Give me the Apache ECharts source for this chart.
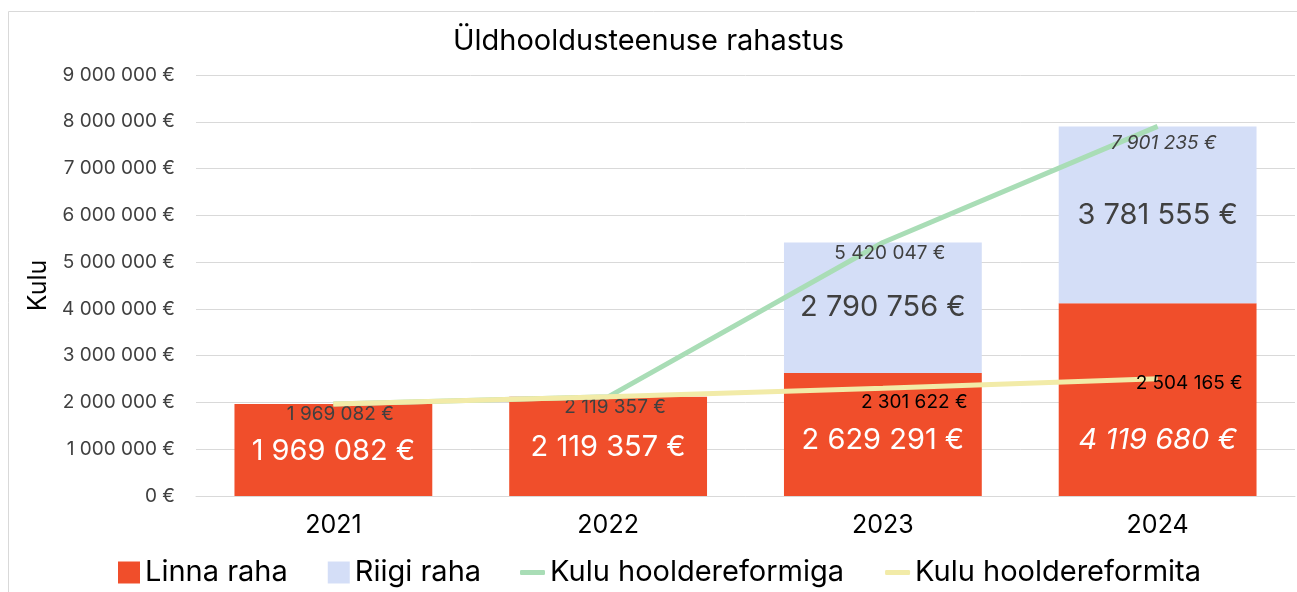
<!DOCTYPE html>
<html>
<head>
<meta charset="utf-8">
<script src="https://cdn.jsdelivr.net/npm/echarts@6/dist/echarts.min.js"></script>
<style>
  html, body { margin: 0; padding: 0; background: #fff; }
  #chart { width: 1297px; height: 592px; }
</style>
</head>
<body>
<div id="chart"></div>
<script>
// data
var years = ['2021', '2022', '2023', '2024']
var linnaRaha = [1969082, 2119357, 2629291, 4119680]
var riigiRaha = [0, 0, 2790756, 3781555]
var kuluReformiga = [1969082, 2119357, 5420047, 7901235]
var kuluReformita = [1969082, 2119357, 2301622, 2504165]

var FONT = 'Inter'
var RED = '#f04e2b'
var BLUE = '#d4def7'
var GREEN = '#a9ddb6'
var YELLOW = '#f2eba8'

function fmt(v) {
  return String(Math.round(v)).replace(/\B(?=(\d{3})+(?!\d))/g, ' ') + ' €'
}

var chart = echarts.init(document.getElementById('chart'))

// label offsets for the city money bars (labels sit a bit low in the taller bars)
var linnaOffsets = [[0, 1], [0, 1], [0, 6], [0, 41]]
var gLabelOffsets = [[7, 0], [7, 0], [7, 0], [6, 6]]

var legendText = { fontFamily: FONT, fontSize: 29, color: '#000' }

chart.setOption({
  animation: false,
  textStyle: { fontFamily: FONT },
  graphic: [{
    type: 'rect',
    shape: { x: 8.5, y: 11.5, width: 1300, height: 600 },
    style: { fill: 'none', stroke: '#d9d9d9', lineWidth: 1 },
    silent: true
  }],
  title: {
    text: 'Üldhooldusteenuse rahastus',
    left: 'center',
    top: 22,
    textStyle: { fontFamily: FONT, fontSize: 29, fontWeight: 'normal', color: '#000' }
  },
  legend: [
    {
      left: 118,
      top: 558,
      padding: 0,
      itemGap: 40,
      itemWidth: 22,
      itemHeight: 22,
      icon: 'rect',
      textStyle: legendText,
      data: ['Linna raha', 'Riigi raha']
    },
    {
      left: 520,
      top: 558,
      padding: 0,
      itemGap: 41,
      itemWidth: 25,
      itemHeight: 5,
      icon: 'roundRect',
      textStyle: legendText,
      data: ['Kulu hooldereformiga', 'Kulu hooldereformita']
    }
  ],
  grid: { left: 196, right: 2, top: 75, bottom: 96, containLabel: false },
  xAxis: {
    type: 'category',
    data: years,
    axisLine: { show: true, lineStyle: { color: '#d9d9d9' } },
    axisTick: { show: false },
    axisLabel: { fontFamily: FONT, fontSize: 25, color: '#000', margin: 17 }
  },
  yAxis: {
    type: 'value',
    min: 0,
    max: 9000000,
    interval: 1000000,
    name: 'Kulu',
    nameLocation: 'middle',
    nameGap: 144,
    nameTextStyle: { fontFamily: FONT, fontSize: 25, color: '#000' },
    axisLine: { show: false },
    axisTick: { show: false },
    splitLine: { lineStyle: { color: '#d9d9d9' } },
    axisLabel: { fontFamily: FONT, fontSize: 19, color: '#404040', margin: 21, formatter: fmt }
  },
  series: [
    {
      name: 'Linna raha',
      type: 'bar',
      stack: 'raha',
      barWidth: '72%',
      itemStyle: { color: RED },
      data: linnaRaha.map(function (v, i) {
        return {
          value: v,
          label: {
            offset: linnaOffsets[i],
            fontStyle: i === 3 ? 'italic' : 'normal'
          }
        }
      }),
      label: {
        show: true,
        position: 'inside',
        color: '#fff',
        fontFamily: FONT,
        fontSize: 29,
        formatter: function (p) { return fmt(p.value) }
      }
    },
    {
      name: 'Riigi raha',
      type: 'bar',
      stack: 'raha',
      itemStyle: { color: BLUE },
      data: riigiRaha,
      label: {
        show: true,
        position: 'inside',
        color: '#404040',
        fontFamily: FONT,
        fontSize: 29,
        formatter: function (p) { return p.value ? fmt(p.value) : '' }
      }
    },
    {
      name: 'Kulu hooldereformiga',
      type: 'line',
      symbol: 'circle',
      symbolSize: 0.01,
      z: 3,
      lineStyle: { color: GREEN, width: 5 },
      itemStyle: { color: GREEN },
      data: kuluReformiga.map(function (v, i) {
        return {
          value: v,
          label: { fontStyle: i === 3 ? 'italic' : 'normal', offset: gLabelOffsets[i] }
        }
      }),
      label: {
        show: true,
        position: 'bottom',
        distance: 1,
        color: '#404040',
        fontFamily: FONT,
        fontSize: 19,
        formatter: function (p) { return fmt(p.value) }
      }
    },
    {
      name: 'Kulu hooldereformita',
      type: 'line',
      symbol: 'circle',
      symbolSize: 0.01,
      z: 4,
      lineStyle: { color: YELLOW, width: 5 },
      itemStyle: { color: YELLOW },
      data: kuluReformita.map(function (v, i) {
        return {
          value: v,
          label: {
            show: i >= 2,
            offset: i === 2 ? [-27, 14] : [-27, 4]
          }
        }
      }),
      label: {
        show: true,
        position: 'right',
        distance: 5,
        color: '#000',
        fontFamily: FONT,
        fontSize: 19,
        formatter: function (p) { return fmt(p.value) }
      }
    }
  ]
})
</script>
</body>
</html>
